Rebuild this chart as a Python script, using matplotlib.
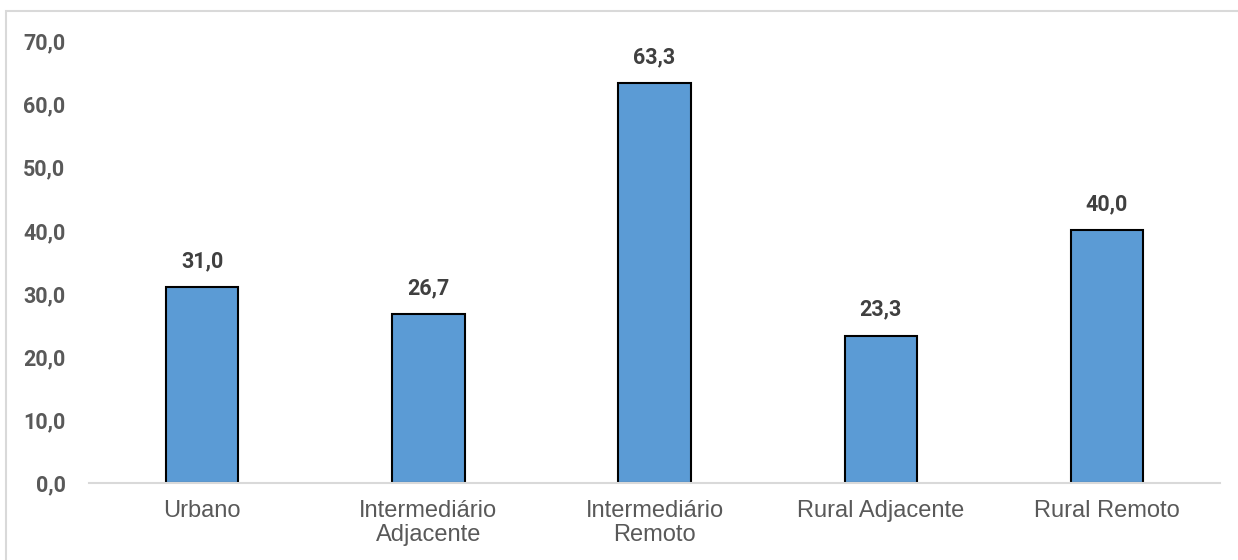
import matplotlib.pyplot as plt
from matplotlib.patches import Rectangle

categorias = ['Urbano', 'Intermediário\nAdjacente', 'Intermediário\nRemoto',
              'Rural Adjacente', 'Rural Remoto']
valores = [31.0, 26.7, 63.3, 23.3, 40.0]
yticks = [0, 10, 20, 30, 40, 50, 60, 70]

fig = plt.figure(figsize=(12.38, 5.6), dpi=100)
ax = fig.add_axes([0.0719, 0.1375, 0.9136, 0.7893])

x = range(len(categorias))
bars = ax.bar(x, valores, width=0.32, color='#5B9BD5', edgecolor='black',
              linewidth=1.5, zorder=2)

for b, v in zip(bars, valores):
    ax.annotate(f'{v:.1f}'.replace('.', ','),
                (b.get_x() + b.get_width() / 2, v),
                xytext=(0, 11), textcoords='offset points',
                ha='center', va='bottom', fontsize=15.5, fontweight='bold',
                color='#404040', family='Roboto')

ax.set_xlim(-0.5, len(categorias) - 0.5)
ax.set_ylim(0, 70)
ax.set_yticks(yticks)
ax.set_yticklabels([f'{t:.1f}'.replace('.', ',') for t in yticks],
                   fontsize=15.5, fontweight='bold', color='#595959',
                   family='Roboto')
ax.set_xticks(list(x))
ax.set_xticklabels(categorias, fontsize=17, color='#595959',
                   family='Liberation Sans', linespacing=1.15)
ax.tick_params(axis='both', length=0)
ax.tick_params(axis='y', pad=17)
ax.tick_params(axis='x', pad=12)

for s in ['top', 'right', 'left']:
    ax.spines[s].set_visible(False)
ax.spines['bottom'].set_color('#D9D9D9')
ax.spines['bottom'].set_linewidth(1.5)
ax.spines['bottom'].set_zorder(3)

# moldura do gráfico
fig.patches.append(Rectangle((6 / 1238, -0.1), 1.2, 1 - 11 / 560 + 0.1,
                             transform=fig.transFigure, fill=False,
                             edgecolor='#D9D9D9', linewidth=1.5))

fig.savefig('out.png', dpi=100)
